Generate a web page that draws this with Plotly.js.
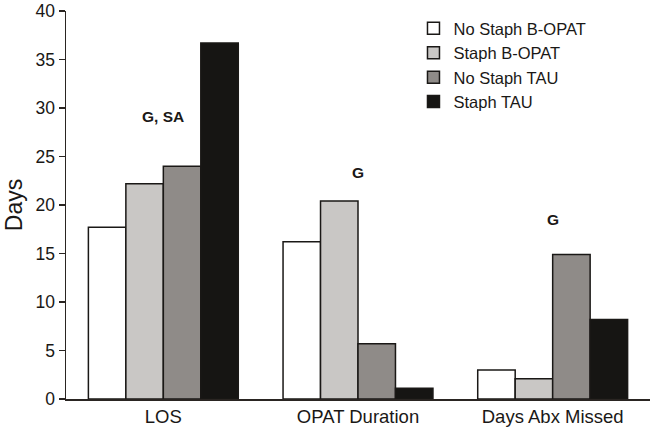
<!DOCTYPE html>
<html>
<head>
<meta charset="utf-8">
<script src="https://cdn.plot.ly/plotly-3.0.1.min.js"></script>
<style>
  html, body { margin: 0; padding: 0; background: #ffffff; }
  #chart { width: 655px; height: 429px; }
</style>
</head>
<body>
<div id="chart"></div>
<script>
// Outcome measures compared across the four patient groups
const categories = ["LOS", "OPAT Duration", "Days Abx Missed"];
const seriesNames = ["No Staph B-OPAT", "Staph B-OPAT", "No Staph TAU", "Staph TAU"];
const noStaphBOPAT = [17.7, 16.2, 3.0];
const staphBOPAT = [22.2, 20.4, 2.1];
const noStaphTAU = [24.0, 5.7, 14.9];
const staphTAU = [36.7, 1.1, 8.2];
const seriesColors = ["#ffffff", "#c9c7c5", "#8f8b88", "#161513"];

// Significance markers above each group
const sigLabels = ["G, SA", "G", "G"];
const sigHeights = [29.1, 23.3, 18.5];

const yTicks = [0, 5, 10, 15, 20, 25, 30, 35, 40];

const seriesValues = [noStaphBOPAT, staphBOPAT, noStaphTAU, staphTAU];
const traces = seriesValues.map((vals, i) => ({
  type: "bar",
  name: seriesNames[i],
  legendgroup: "g" + i,
  x: categories,
  y: vals,
  marker: { color: seriesColors[i], line: { color: "#1a1816", width: 1.5 } },
  hoverinfo: "skip"
}));

const annotations = categories.map((c, i) => ({
  x: c, y: sigHeights[i], xref: "x", yref: "y",
  text: "<b>" + sigLabels[i] + "</b>",
  showarrow: false,
  font: { family: "Liberation Sans, Arial, sans-serif", size: 15.5, color: "#1a1816" }
}));

const layout = {
  width: 655, height: 429,
  margin: { l: 66, r: 5, t: 11, b: 30 },
  paper_bgcolor: "#ffffff",
  plot_bgcolor: "#ffffff",
  font: { family: "Liberation Sans, Arial, sans-serif", color: "#1a1816" },
  barmode: "group",
  bargap: 0.23,
  bargroupgap: 0,
  xaxis: {
    type: "category",
    range: [-0.5, 2.5],
    showline: true, linecolor: "#2a2522", linewidth: 1.5,
    ticks: "", showgrid: false, zeroline: false,
    tickfont: { size: 18.5 }
  },
  yaxis: {
    range: [0, 40],
    tickvals: yTicks,
    showline: true, linecolor: "#2a2522", linewidth: 1.5,
    ticks: "outside", ticklen: 6, tickwidth: 1.5, tickcolor: "#2a2522",
    showgrid: false, zeroline: false,
    tickfont: { size: 17.5 },
    title: { text: "Days", font: { size: 23 }, standoff: 6 }
  },
  legend: {
    x: 0.595, y: 1.0, xanchor: "left", yanchor: "top",
    font: { size: 16.5 },
    bgcolor: "rgba(0,0,0,0)",
    itemwidth: 30,
    tracegroupgap: 0
  },
  annotations: annotations,
  showlegend: true
};

Plotly.newPlot("chart", traces, layout, { displayModeBar: false, staticPlot: true });
</script>
</body>
</html>
